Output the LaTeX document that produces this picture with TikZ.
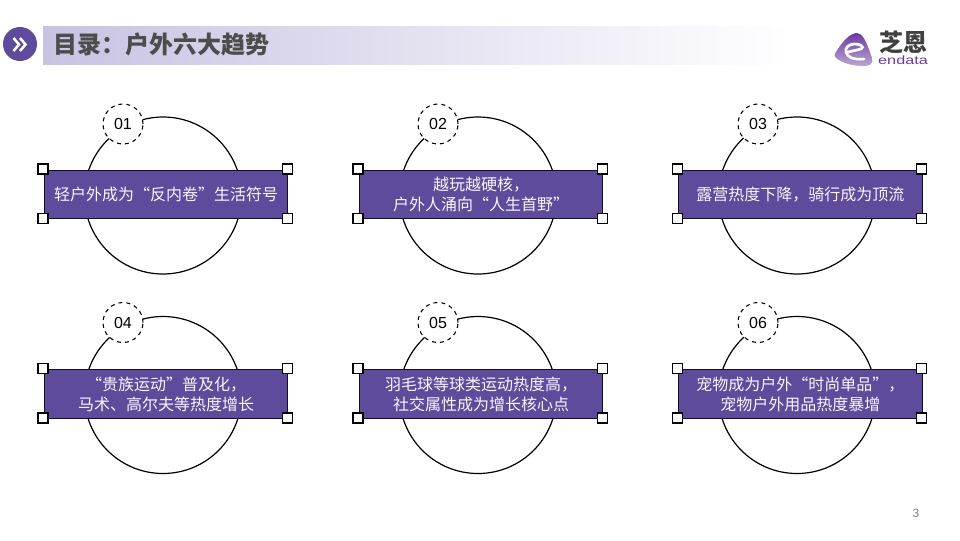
\documentclass[tikz,border=0pt]{standalone}
\usepackage{fontspec}
\setmainfont{Liberation Sans}
\newfontfamily\cjk{Noto Sans CJK SC}
\definecolor{bandpurple}{HTML}{5F4B9C}
\definecolor{headpurple}{HTML}{C8C3E2}
\definecolor{logopurple}{HTML}{6A3A9E}
\tikzset{
    ring/.style={draw=black, fill=white, circle, line width=0.9pt, minimum size=117.75pt, inner sep=0pt},
    badge/.style={draw=black, fill=white, circle, dashed, line width=0.8pt, minimum size=30pt, inner sep=0pt, font=\fontsize{12}{14}\selectfont},
    band/.style={draw=black!80!bandpurple, fill=bandpurple, line width=0.7pt, minimum width=182.5pt, minimum height=36.5pt, inner sep=0pt, align=center, text=white!95!bandpurple, font=\cjk\fontsize{12}{15}\selectfont},
    handle/.style={draw=black, fill=white, line width=0.9pt, minimum size=7.5pt, inner sep=0pt, xshift=-0.6pt, yshift=0.6pt},
}
\begin{document}
\begin{tikzpicture}[x=0.75pt, y=-0.75pt]
    \useasboundingbox (0,0) rectangle (960,540);

    \fill[left color=headpurple, right color=white] (43,26) rectangle (790,64);
    \node[fill=bandpurple, circle, minimum size=25.5pt, inner sep=0pt] (arrowdot) at (20,44) {};
    \draw[white, line width=1.9pt] (13.5,38) -- (19,44.5) -- (13.5,51);
    \draw[white, line width=1.9pt] (20,38) -- (25.5,44.5) -- (20,51);
    \node[anchor=west, inner sep=0pt, text=black!70, font=\cjk\bfseries\fontsize{18}{20}\selectfont] (title) at (53,44) {目录：户外六大趋势};

    \shade[top color=logopurple, bottom color=logopurple!45] (836,52) .. controls (842,42) and (850,33) .. (857,33) .. controls (862,33) and (866,40) .. (872,58) .. controls (874,64) and (869,66) .. (864,66) .. controls (852,66) and (842,63) .. (836,58) .. controls (834,56) and (834,55) .. (836,52) -- cycle;
    \draw[white, line width=2pt, line cap=round] (848,52) -- (861,49) .. controls (865,47) and (860,43.5) .. (854,44) .. controls (848,44.5) and (845,48) .. (846,52) .. controls (847,57) and (853,60) .. (864,59);
    \node[inner sep=0pt, text=black!75, font=\cjk\bfseries\fontsize{18}{20}\selectfont] (logoname) at (903,42) {芝恩};
    \node[inner sep=0pt, text=logopurple, xscale=1.35, font=\fontsize{9}{10}\selectfont] (logoword) at (903,60) {endata};

    \node[ring] (ring1) at (163,195.5) {};
    \node[badge] (num1) at (123,124) {01};
    \node[band] (band1) at (166,194.5) {轻户外成为“反内卷”生活符号};
    \node[handle] (h1a) at (band1.north west) {};
    \node[handle] (h1b) at (band1.north east) {};
    \node[handle] (h1c) at (band1.south west) {};
    \node[handle] (h1d) at (band1.south east) {};

    \node[ring] (ring2) at (478,195.5) {};
    \node[badge] (num2) at (438,124) {02};
    \node[band] (band2) at (481,194.5) {越玩越硬核，\\户外人涌向“人生首野”};
    \node[handle] (h2a) at (band2.north west) {};
    \node[handle] (h2b) at (band2.north east) {};
    \node[handle] (h2c) at (band2.south west) {};
    \node[handle] (h2d) at (band2.south east) {};

    \node[ring] (ring3) at (797,195.5) {};
    \node[badge] (num3) at (758,124) {03};
    \node[band] (band3) at (800.3,194.5) {露营热度下降，骑行成为顶流};
    \node[handle] (h3a) at (band3.north west) {};
    \node[handle] (h3b) at (band3.north east) {};
    \node[handle] (h3c) at (band3.south west) {};
    \node[handle] (h3d) at (band3.south east) {};

    \node[ring] (ring4) at (163,395) {};
    \node[badge] (num4) at (123,322.5) {04};
    \node[band] (band4) at (166,394) {“贵族运动”普及化，\\马术、高尔夫等热度增长};
    \node[handle] (h4a) at (band4.north west) {};
    \node[handle] (h4b) at (band4.north east) {};
    \node[handle] (h4c) at (band4.south west) {};
    \node[handle] (h4d) at (band4.south east) {};

    \node[ring] (ring5) at (478,395) {};
    \node[badge] (num5) at (438,322.5) {05};
    \node[band] (band5) at (481,394) {羽毛球等球类运动热度高，\\社交属性成为增长核心点};
    \node[handle] (h5a) at (band5.north west) {};
    \node[handle] (h5b) at (band5.north east) {};
    \node[handle] (h5c) at (band5.south west) {};
    \node[handle] (h5d) at (band5.south east) {};

    \node[ring] (ring6) at (797,395) {};
    \node[badge] (num6) at (758,322.5) {06};
    \node[band] (band6) at (800.3,394) {宠物成为户外“时尚单品”，\\宠物户外用品热度暴增};
    \node[handle] (h6a) at (band6.north west) {};
    \node[handle] (h6b) at (band6.north east) {};
    \node[handle] (h6c) at (band6.south west) {};
    \node[handle] (h6d) at (band6.south east) {};

    \node[text=black!50, font=\fontsize{9}{10}\selectfont] (pagenum) at (916,513) {3};
\end{tikzpicture}
\end{document}
